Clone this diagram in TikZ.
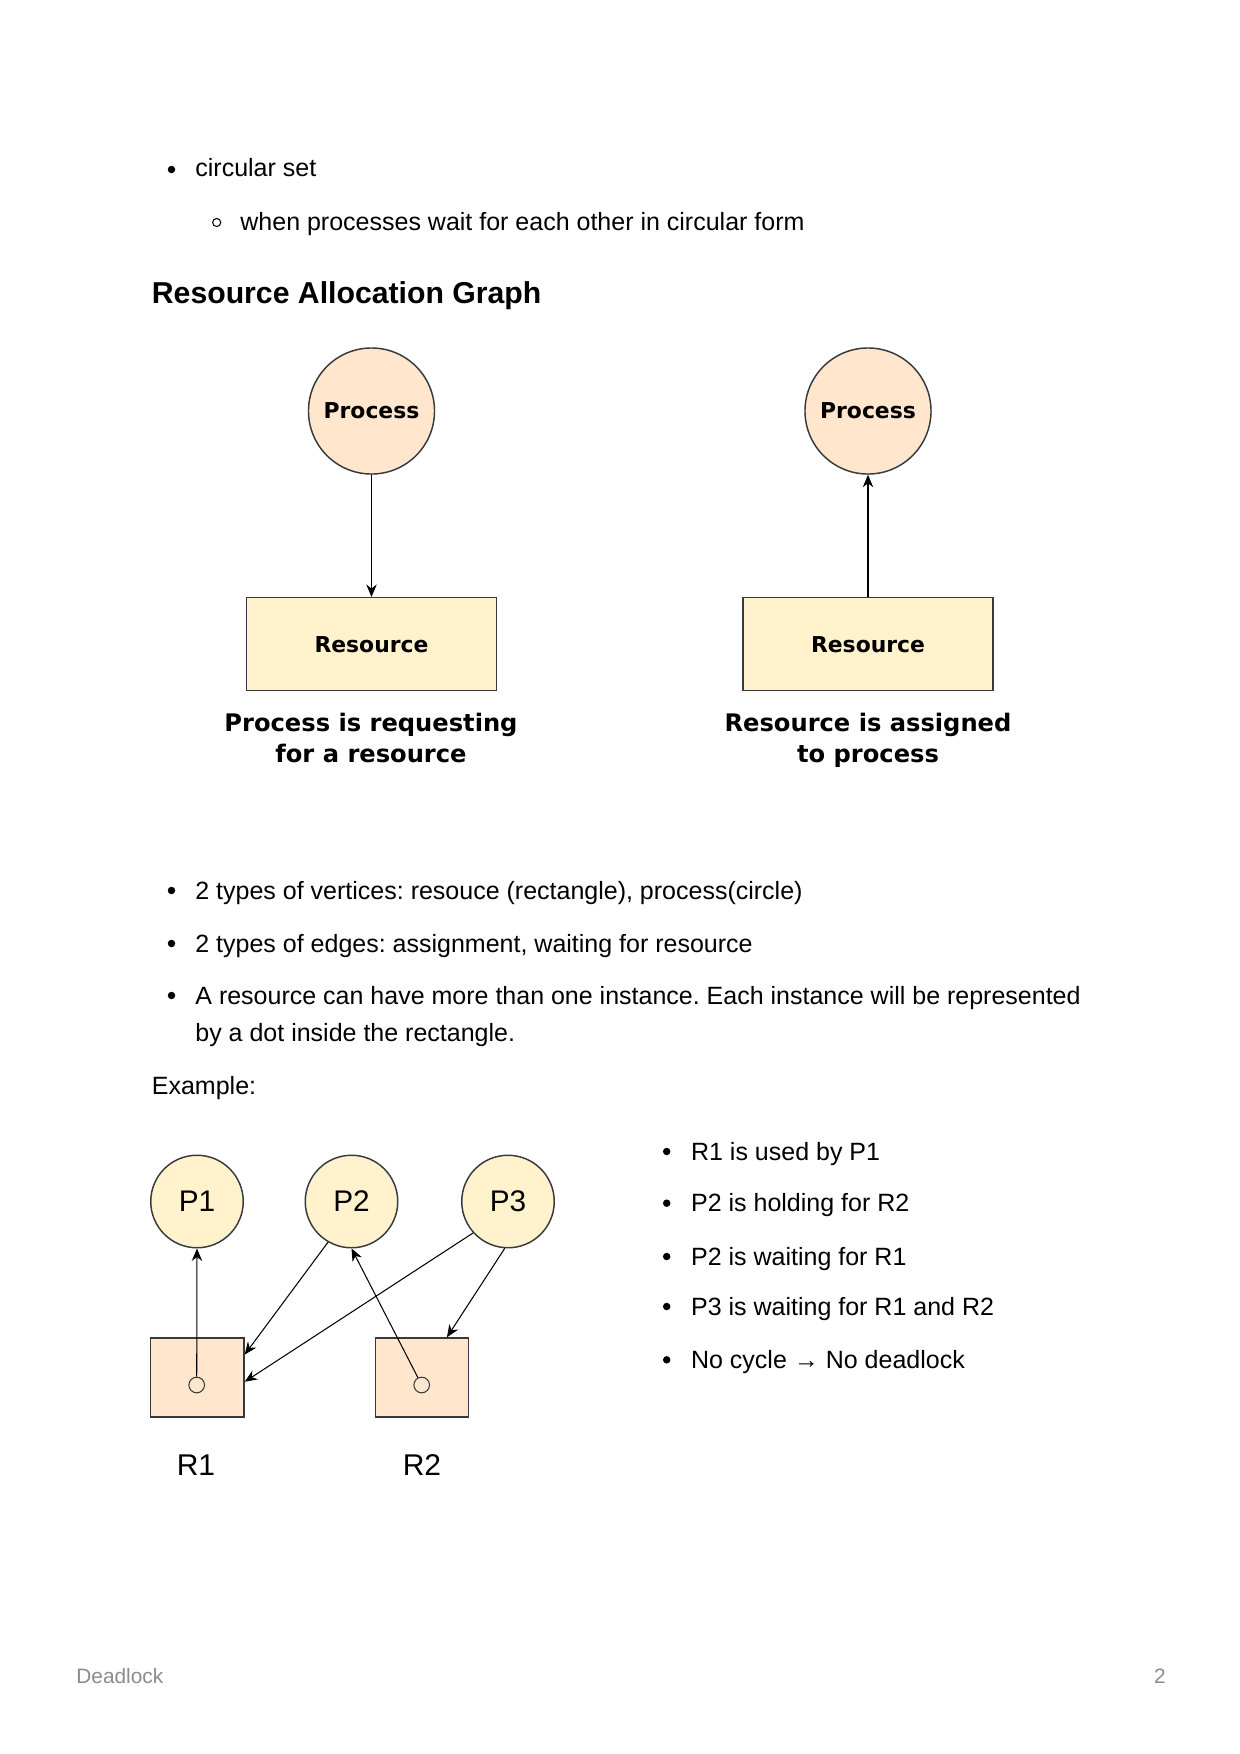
\documentclass[tikz,border=0pt]{standalone}
\usepackage{fontspec}
\setmainfont{Liberation Sans}
\newfontfamily\graphfont{DejaVu Sans}
\usepackage{xcolor}
\usetikzlibrary{arrows.meta, calc, positioning}

\definecolor{peach}{HTML}{FFE6CC}
\definecolor{cream}{HTML}{FFF2CC}
\definecolor{edgegray}{HTML}{36393D}
\definecolor{footgray}{HTML}{8C8C8C}

\frenchspacing
\begin{document}
\begin{tikzpicture}[x=0.48pt, y=-0.48pt,
    txt/.style={anchor=base west, inner sep=0pt, font=\fontsize{12}{14}\selectfont},
    dotbullet/.style={circle, fill=black, inner sep=0pt, minimum size=3.6pt},
    ringbullet/.style={circle, draw=black, line width=0.5pt, inner sep=0pt, minimum size=3.9pt},
    proc/.style={circle, draw=edgegray, line width=0.7pt, fill=peach, inner sep=0pt, minimum size=60.5pt,
        font=\graphfont\bfseries\fontsize{10.5}{12}\selectfont},
    res/.style={rectangle, draw=edgegray, line width=0.7pt, fill=cream, inner sep=0pt,
        minimum width=120pt, minimum height=44.6pt, font=\graphfont\bfseries\fontsize{10.5}{12}\selectfont},
    capline/.style={anchor=base, inner sep=0pt, font=\graphfont\bfseries\fontsize{11.6}{13}\selectfont},
    pnode/.style={circle, draw=edgegray, line width=0.7pt, fill=cream, inner sep=0pt, minimum size=44.4pt,
        font=\fontsize{14.3}{16}\selectfont},
    rnode/.style={rectangle, draw=edgegray, line width=0.7pt, fill=peach, inner sep=0pt,
        minimum width=44.8pt, minimum height=37.9pt},
    inst/.style={circle, draw=edgegray, line width=0.5pt, fill=peach, inner sep=0pt, minimum size=7.5pt},
    rlabel/.style={anchor=base, inner sep=0pt, font=\fontsize{14.4}{16}\selectfont},
    arr/.style={-{Stealth[length=6pt, width=5pt]}, line width=0.5pt, draw=black}
]
% page
\fill[white] (0, 0) rectangle (1240, 1754);
\useasboundingbox (0, 0) rectangle (1240, 1754);

% bullets at the top
\node[dotbullet] (b0) at (171.5, 169.5) {};
\node[txt] (t0) at (195, 176.7) {circular set};
\node[ringbullet] (b0a) at (216.7, 222.5) {};
\node[txt] (t0a) at (240, 230) {when processes wait for each other in circular form};

\node[anchor=base west, inner sep=0pt, font=\bfseries\fontsize{14.5}{17}\selectfont] (head) at (151.5, 303.3) {Resource Allocation Graph};

% request edge
\node[proc] (proc1) at (371.5, 411) {Process};
\node[res] (res1) at (371.5, 644.2) {Resource};
\node[capline] (cap1a) at (371, 731.7) {Process is requesting};
\node[capline] (cap1b) at (371, 762.5) {for a resource};
\draw[arr] (proc1) -- (res1);

% assignment edge
\node[proc] (proc2) at (868, 411) {Process};
\node[res] (res2) at (868, 644.2) {Resource};
\node[capline] (cap2a) at (868, 731.7) {Resource is assigned};
\node[capline] (cap2b) at (868, 762.5) {to process};
\draw[arr] (res2) -- (proc2);

% bullets in the middle
\node[dotbullet] (b1) at (171.5, 890.5) {};
\node[txt] (t1) at (195, 899) {2 types of vertices: resouce (rectangle), process(circle)};
\node[dotbullet] (b2) at (171.5, 943.5) {};
\node[txt] (t2) at (195, 952) {2 types of edges: assignment, waiting for resource};
\node[dotbullet] (b3) at (171.5, 995.5) {};
\node[txt] (t3) at (195, 1004) {A resource can have more than one instance. Each instance will be represented};
\node[txt] (t3b) at (195, 1041) {by a dot inside the rectangle.};
\node[txt] (ex) at (151.5, 1094) {Example:};

% example graph
\node[pnode] (P1) at (197, 1201.5) {P1};
\node[pnode] (P2) at (351.5, 1201.5) {P2};
\node[pnode] (P3) at (508, 1201.5) {P3};
\node[rnode] (R1) at (197.3, 1377.5) {};
\node[rnode] (R2) at (422, 1377.5) {};
\node[inst] (d1) at (196.7, 1385) {};
\node[inst] (d2) at (421.7, 1385) {};
\node[rlabel] (l1) at (196, 1475) {R1};
\node[rlabel] (l2) at (422, 1475) {R2};

\coordinate (r1a) at ($(R1.north east)!0.215!(R1.south east)$);
\coordinate (r1b) at ($(R1.north east)!0.553!(R1.south east)$);
\coordinate (r2a) at ($(R2.north west)!0.763!(R2.north east)$);

\draw[arr] (d1) -- (P1.south);
\draw[arr] (P2.240) -- (r1a);
\draw[arr] (P3.222) -- (r1b);
\draw[arr] (d2) -- (P2.south);
\draw[arr] (P3.266) -- (r2a);

% bullets on the right
\node[dotbullet] (c1) at (666.7, 1151.5) {};
\node[txt] (s1) at (690.7, 1160) {R1 is used by P1};
\node[dotbullet] (c2) at (666.7, 1203.2) {};
\node[txt] (s2) at (690.7, 1211.7) {P2 is holding for R2};
\node[dotbullet] (c3) at (666.7, 1256.5) {};
\node[txt] (s3) at (690.7, 1265) {P2 is waiting for R1};
\node[dotbullet] (c4) at (666.7, 1306.5) {};
\node[txt] (s4) at (690.7, 1315) {P3 is waiting for R1 and R2};
\node[dotbullet] (c5) at (666.7, 1359.8) {};
\node[txt] (s5) at (690.7, 1368.3) {No cycle → No deadlock};

% footer
\node[anchor=base west, inner sep=0pt, text=footgray, font=\fontsize{10}{12}\selectfont] (foot) at (76, 1683) {Deadlock};
\node[anchor=base east, inner sep=0pt, text=footgray, font=\fontsize{10}{12}\selectfont] (pagenum) at (1166, 1683) {2};
\end{tikzpicture}
\end{document}
